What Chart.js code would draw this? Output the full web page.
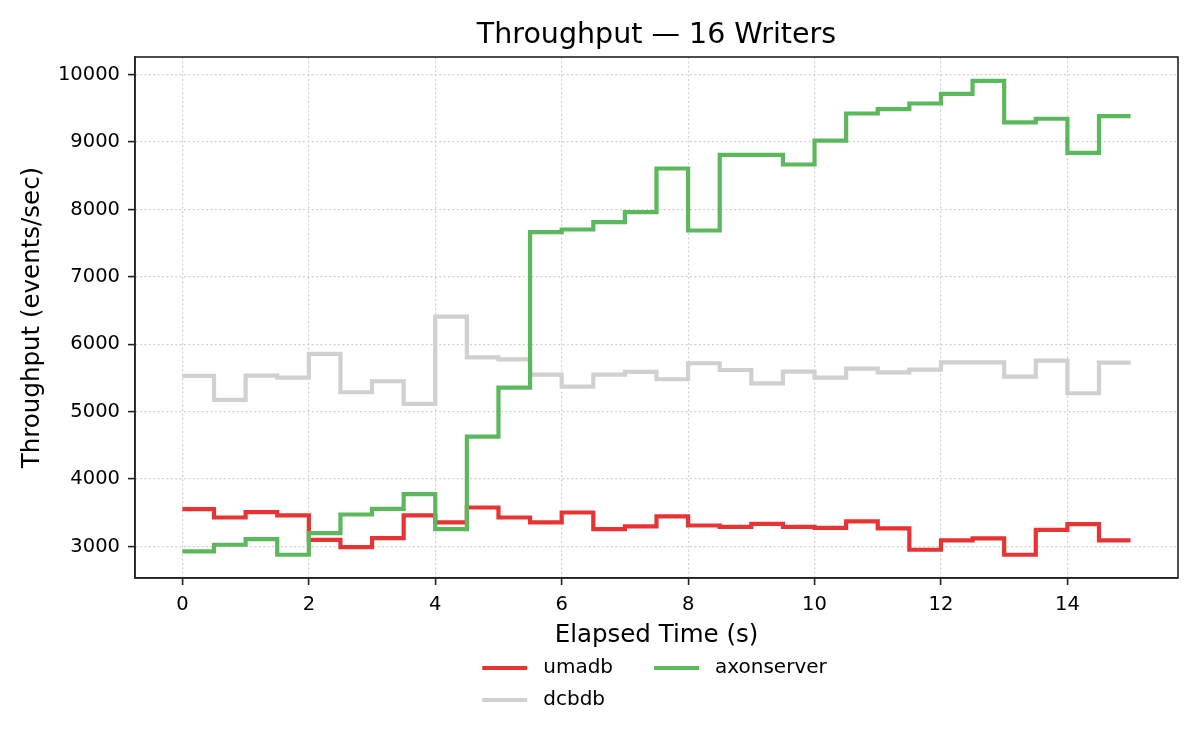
<!DOCTYPE html>
<html>
<head>
<meta charset="utf-8">
<script src="https://cdn.jsdelivr.net/npm/chart.js@4/dist/chart.umd.min.js"></script>
<style>
  html, body { margin: 0; padding: 0; background: #fff; }
  #wrap { width: 1200px; height: 750px; position: relative; }
</style>
</head>
<body>
<div id="wrap"><canvas id="throughputChart"></canvas></div>
<script>
const FONT = 'DejaVu Sans';

// elapsed time (s), one sample every 0.5 s
const times = [0, 0.5, 1, 1.5, 2, 2.5, 3, 3.5, 4, 4.5, 5, 5.5, 6, 6.5, 7, 7.5,
               8, 8.5, 9, 9.5, 10, 10.5, 11, 11.5, 12, 12.5, 13, 13.5, 14, 14.5, 15];

const seriesNames = ['umadb', 'dcbdb', 'axonserver'];
const seriesColors = ['#e63434', '#d0d0d0', '#5cb85c'];

// throughput (events/sec)
const umadb = [3554, 3430, 3510, 3460, 3099, 2990, 3124, 3460, 3356, 3578, 3430, 3356, 3504, 3257, 3297, 3445,
               3311, 3292, 3336, 3292, 3277, 3371, 3267, 2951, 3089, 3119, 2877, 3247, 3332, 3089, 3089];
const dcbdb = [5530, 5174, 5535, 5505, 5856, 5288, 5451, 5115, 6409, 5806, 5777, 5549, 5371, 5549, 5589, 5481,
               5718, 5618, 5421, 5594, 5505, 5638, 5584, 5623, 5732, 5732, 5519, 5757, 5273, 5727, 5727];
const axonserver = [2926, 3025, 3109, 2877, 3198, 3474, 3559, 3776, 3257, 4630, 5356, 7664, 7703, 7811, 7959, 8608,
                    7688, 8810, 8810, 8667, 9021, 9424, 9488, 9572, 9715, 9907, 9292, 9346, 8839, 9385, 9385];

// tick positions
const xTicks = [0, 2, 4, 6, 8, 10, 12, 14];
const yTicks = [3000, 4000, 5000, 6000, 7000, 8000, 9000, 10000];

const xRange = [-0.75, 15.75];
const yRange = [2532, 10262];

const toPoints = vals => times.map((t, i) => ({ x: t, y: vals[i] }));

// spines on all four sides, like the matplotlib axes box
const framePlugin = {
    id: 'frame',
    afterDraw(chart) {
        const { ctx, chartArea: a } = chart;
        ctx.save();
        ctx.strokeStyle = '#222';
        ctx.lineWidth = 1.6;
        ctx.strokeRect(a.left, a.top, a.right - a.left, a.bottom - a.top);
        ctx.restore();
    }
};

// two-column legend under the x axis, filled column by column
const legendPlugin = {
    id: 'colLegend',
    afterDraw(chart) {
        const { ctx, chartArea: a } = chart;
        const sets = chart.data.datasets;
        const handle = 45, pad = 16, colGap = 41, row0 = 668, rowH = 32;
        ctx.save();
        ctx.font = `20px "${FONT}"`;
        const cols = [[sets[0], sets[1]], [sets[2]]];
        const widths = cols.map(c => Math.max(...c.map(d => ctx.measureText(d.label).width)));
        const total = widths.reduce((s, w) => s + handle + pad + w, 0) + colGap * (cols.length - 1);
        let x = (a.left + a.right) / 2 - total / 2 - 2;
        cols.forEach((col, ci) => {
            col.forEach((d, ri) => {
                const y = row0 + ri * rowH;
                ctx.strokeStyle = d.borderColor;
                ctx.lineWidth = 4;
                ctx.beginPath();
                ctx.moveTo(x, y);
                ctx.lineTo(x + handle, y);
                ctx.stroke();
                ctx.fillStyle = '#000';
                ctx.textBaseline = 'middle';
                ctx.textAlign = 'left';
                ctx.fillText(d.label, x + handle + pad, y);
            });
            x += handle + pad + widths[ci] + colGap;
        });
        ctx.restore();
    }
};

function initChart() {
    const ctx = document.getElementById('throughputChart').getContext('2d');
    const allVals = [umadb, dcbdb, axonserver];
    const gridOpts = {
        color: '#d0d0d0', lineWidth: 1.2,
        tickLength: 7, tickColor: '#222', tickWidth: 1.6, tickBorderDash: []
    };
    const borderOpts = { color: '#222', width: 1.6, dash: [2, 2.4] };

    new Chart(ctx, {
        type: 'line',
        data: {
            datasets: seriesNames.map((name, i) => ({
                label: name,
                data: toPoints(allVals[i]),
                borderColor: seriesColors[i],
                backgroundColor: seriesColors[i],
                borderWidth: 4.2,
                stepped: 'before',
                pointRadius: 0,
                fill: false,
                borderJoinStyle: 'miter',
                order: 3 - i
            }))
        },
        options: {
            responsive: true,
            maintainAspectRatio: false,
            animation: false,
            devicePixelRatio: 1,
            layout: { padding: { left: 0, right: 22, top: 0, bottom: 0 } },
            scales: {
                x: {
                    type: 'linear', min: xRange[0], max: xRange[1],
                    grid: gridOpts, border: borderOpts,
                    afterBuildTicks: s => { s.ticks = xTicks.map(v => ({ value: v })); },
                    ticks: { padding: 8, color: '#000', callback: v => String(v),
                             font: { family: FONT, size: 19.5 } },
                    title: { display: true, text: 'Elapsed Time (s)', color: '#000',
                             font: { family: FONT, size: 24.5 }, padding: { top: 0, bottom: 100 } },
                    afterFit: s => { s.height = 172; }
                },
                y: {
                    type: 'linear', min: yRange[0], max: yRange[1],
                    grid: gridOpts, border: borderOpts,
                    afterBuildTicks: s => { s.ticks = yTicks.map(v => ({ value: v })); },
                    ticks: { padding: 8, color: '#000', callback: v => String(v),
                             font: { family: FONT, size: 19.5 } },
                    title: { display: true, text: 'Throughput (events/sec)', color: '#000',
                             font: { family: FONT, size: 24.5 }, padding: { top: 18, bottom: 0 } },
                    afterFit: s => { s.width = 135; }
                }
            },
            plugins: {
                legend: { display: false },
                tooltip: { enabled: false },
                title: {
                    display: true, text: 'Throughput — 16 Writers', color: '#000', fullSize: false,
                    font: { family: FONT, size: 28.5, weight: 'normal' },
                    padding: { top: 18.7, bottom: 4.1 }
                }
            }
        },
        plugins: [framePlugin, legendPlugin]
    });
}

initChart();
</script>
</body>
</html>
